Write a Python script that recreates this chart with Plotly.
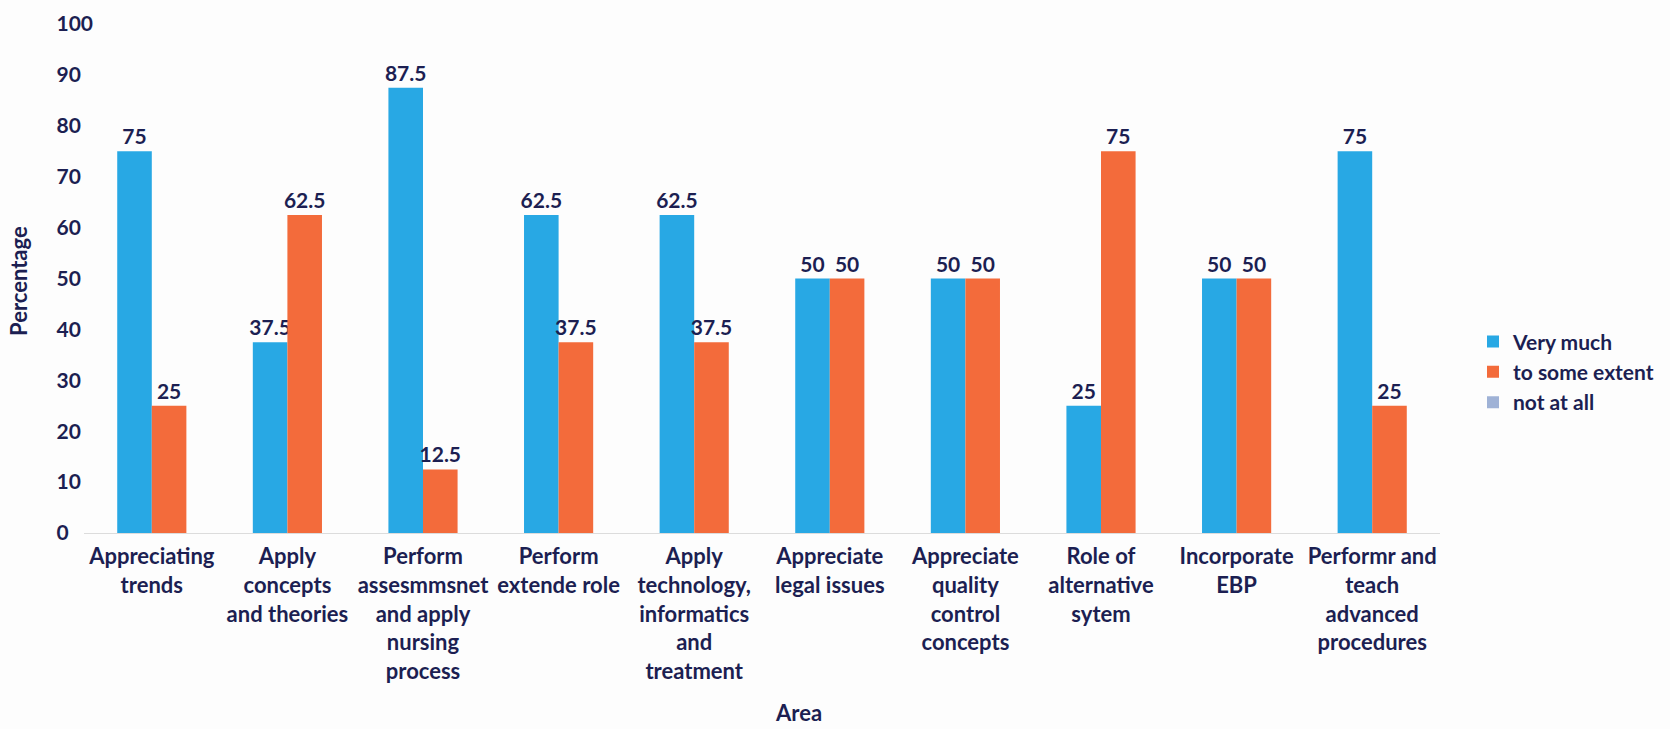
import plotly.graph_objects as go

# Survey areas (x categories) and response percentages per answer
areas = [
    "Appreciating<br>trends",
    "Apply<br>concepts<br>and theories",
    "Perform<br>assesmmsnet<br>and apply<br>nursing<br>process",
    "Perform<br>extende role",
    "Apply<br>technology,<br>informatics<br>and<br>treatment",
    "Appreciate<br>legal issues",
    "Appreciate<br>quality<br>control<br>concepts",
    "Role of<br>alternative<br>sytem",
    "Incorporate<br>EBP",
    "Performr and<br>teach<br>advanced<br>procedures",
]
very_much = [75, 37.5, 87.5, 62.5, 62.5, 50, 50, 25, 50, 75]
to_some_extent = [25, 62.5, 12.5, 37.5, 37.5, 50, 50, 75, 50, 25]
not_at_all = [0, 0, 0, 0, 0, 0, 0, 0, 0, 0]

y_ticks = [0, 10, 20, 30, 40, 50, 60, 70, 80, 90, 100]

# Canvas geometry in pixels
W, H = 1670, 729
ML, MR, MT, MB = 10, 10, 18, 196
PW, PH = W - ML - MR, H - MT - MB


def fx(p):
    return (p - ML) / PW


def fy(p):
    return (H - MB - p) / PH


INK = "#1c1f52"
FONT = "Lato"
WEIGHT = 700
BLUE = "#28a8e4"
ORANGE = "#f36b3b"
GREYBLUE = "#9fb2d6"


def fmt(v):
    return f"{v:g}"


def left_aligned(v, width=3):
    # pad with figure spaces so the right-anchored tick text reads left-aligned
    s = str(v)
    return s + "\u2007" * (width - len(s))


label_font = dict(family=FONT, size=21, color=INK, weight=WEIGHT)

fig = go.Figure()
fig.add_trace(go.Bar(
    name="Very much", x=areas, y=very_much, marker_color=BLUE,
    marker_line_width=0, offsetgroup="a",
    text=[fmt(v) for v in very_much], textposition="outside",
    textfont=label_font, constraintext="none", cliponaxis=False,
))
fig.add_trace(go.Bar(
    name="to some extent", x=areas, y=to_some_extent, marker_color=ORANGE,
    marker_line_width=0, offsetgroup="b",
    text=[fmt(v) for v in to_some_extent], textposition="outside",
    textfont=label_font, constraintext="none", cliponaxis=False,
))
# "not at all" has no responses; it shares the first slot so it takes no width
fig.add_trace(go.Bar(
    name="not at all", x=areas, y=not_at_all, marker_color=GREYBLUE,
    marker_line_width=0, offsetgroup="a",
))

fig.update_layout(
    width=W, height=H,
    margin=dict(l=ML, r=MR, t=MT, b=MB),
    paper_bgcolor="#fdfdfd", plot_bgcolor="#fdfdfd",
    barmode="group", bargap=0.49, bargroupgap=0,
    font=dict(family=FONT, size=21, color=INK, weight=WEIGHT),
    showlegend=True,
    legend=dict(
        x=fx(1473), y=fy(370), xanchor="left", yanchor="middle",
        font=dict(family=FONT, size=21, color=INK, weight=WEIGHT),
        bgcolor="rgba(0,0,0,0)", tracegroupgap=0,
    ),
    xaxis=dict(
        domain=[fx(84), fx(1440)],
        showgrid=False, zeroline=False,
        showline=True, linecolor="#dcdcdc", linewidth=1,
        ticks="", ticklabelstandoff=4,
        tickfont=dict(family=FONT, size=22, color=INK, weight=WEIGHT),
        tickangle=0,
    ),
    yaxis=dict(
        range=[0, 100], anchor="free", position=fx(93),
        tickvals=y_ticks, ticktext=[left_aligned(v) for v in y_ticks],
        showgrid=False, zeroline=False, showline=False, ticks="",
        ticklabelstandoff=0,
        tickfont=dict(family=FONT, size=21, color=INK, weight=WEIGHT),
    ),
    annotations=[
        dict(text="Percentage", x=fx(19), y=fy(278), xref="paper", yref="paper",
             textangle=-90, showarrow=False, xanchor="center", yanchor="middle",
             font=dict(family=FONT, size=22, color=INK, weight=WEIGHT)),
        dict(text="Area", x=fx(798), y=fy(715), xref="paper", yref="paper",
             showarrow=False, xanchor="center", yanchor="middle",
             font=dict(family=FONT, size=22, color=INK, weight=WEIGHT)),
    ],
)

fig.write_html("out.html")
